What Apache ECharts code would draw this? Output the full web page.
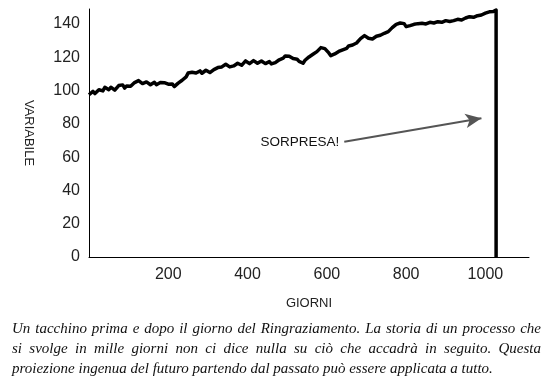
<!DOCTYPE html>
<html>
<head>
<meta charset="utf-8">
<script src="https://cdn.jsdelivr.net/npm/echarts@6/dist/echarts.min.js"></script>
<style>
  html, body { margin: 0; padding: 0; background: #fff; }
  #chart { position: absolute; left: 0; top: 0; width: 559px; height: 390px; }
  .caption {
    position: absolute; left: 12px; top: 318px; width: 529px;
    font-family: "Liberation Serif", "DejaVu Serif", serif;
    font-style: italic; font-size: 15px; line-height: 20px; color: #111;
  }
  .caption div { text-align: justify; text-align-last: justify; }
  .caption div.last { text-align-last: left; }
</style>
</head>
<body>
<div id="chart"></div>
<div class="caption">
  <div>Un tacchino prima e dopo il giorno del Ringraziamento. La storia di un processo che</div>
  <div>si svolge in mille giorni non ci dice nulla su ciò che accadrà in seguito. Questa</div>
  <div class="last">proiezione ingenua del futuro partendo dal passato può essere applicata a tutto.</div>
</div>
<script>
// valori, un punto ogni 5 giorni (giorno 0 .. 1025)
const dayStep = 5;
const values = [
  97.5, 98.5, 99.5, 98.2, 99, 100.5, 101, 99.8, 102, 101.2,
  100.5, 102, 101.5, 100.2, 101, 103, 102.5, 103.4, 101.5, 102.8,
  104, 102.6, 103.5, 104.8, 104.5, 106, 105.5, 104.2, 104.5, 105.2,
  104, 103.5, 104.2, 105, 103.5, 104.2, 104.8, 103.6, 104.7, 105.5,
  103.8, 104.6, 104, 102.4, 103, 104.5, 105.5, 106.2, 107.4, 108.2,
  110.5, 111.6, 111, 109.8, 110.5, 111.6, 111.8, 110.4, 111, 112.2,
  112, 110.8, 111.2, 112.6, 112.4, 113.8, 113, 114.2, 114.5, 115.8,
  115.4, 114.2, 113.6, 114.8, 115, 116.4, 116, 115.2, 116.5, 117.8,
  117.4, 116.2, 116.8, 118, 117.5, 116.4, 116.6, 117.8, 117.3, 116.2,
  116.5, 117.4, 116, 115.4, 116.8, 117.6, 118.5, 118.2, 119.5, 120.8,
  121.4, 120.6, 120, 119.2, 118.5, 118.8, 117.5, 116.8, 116.4, 118.2,
  119, 120.2, 120.4, 121.8, 122.5, 123.4, 124.5, 125.8, 126, 125.2,
  124, 122.6, 121, 120.6, 122, 122.6, 123.5, 123, 124.5, 125.6,
  125.4, 126.8, 126.5, 127.4, 128, 128.6, 129.5, 131.2, 132, 133,
  132.8, 131.4, 130.4, 131, 131.5, 132.6, 132.5, 133.2, 133.5, 134.4,
  134.6, 135.4, 136.5, 137.8, 138.5, 139.8, 139.4, 140.6, 141.4, 140.2,
  138.4, 138.2, 139, 140, 139.8, 140.6, 140.2, 139.6, 140.4, 141,
  140, 140.8, 141, 140.2, 140.6, 141.6, 141.4, 140.8, 141, 142.2,
  142, 141.2, 141.5, 142.6, 142, 143, 142.8, 141.8, 142.4, 143.4,
  143.6, 143, 144.4, 143.6, 144, 145.2, 145, 144.4, 145.4, 146.4,
  146.5, 146, 147.3, 147.8, 147.5, 148.2
];
// il giorno del Ringraziamento: ultimo valore e crollo a zero
const dropDay = 1027;
const dropValues = [148.4, 0];

// freccia "SORPRESA!"
const arrowLabel = "SORPRESA!";
const arrowFrom = [644, 69.3];
const arrowTo = [990, 83.4];

const yTicks = { min: 0, max: 149, interval: 20 };
const xTicks = { min: 0, max: 1110, interval: 200 };

const lineData = values.map((v, i) => [i * dayStep, v]);
dropValues.forEach((v) => lineData.push([dropDay, v]));

const chart = echarts.init(document.getElementById("chart"));
const font = "Liberation Sans, Arial, sans-serif";

chart.setOption({
  animation: false,
  grid: { left: 89, right: 30, top: 9, bottom: 133, outerBoundsMode: "none" },
  xAxis: {
    type: "value",
    min: xTicks.min,
    max: xTicks.max,
    interval: xTicks.interval,
    name: "GIORNI",
    nameLocation: "middle",
    nameGap: 40,
    nameTextStyle: { fontFamily: font, fontSize: 13, color: "#222" },
    axisLine: { show: true, lineStyle: { color: "#000", width: 1 } },
    axisTick: { show: false },
    splitLine: { show: false },
    axisLabel: {
      margin: 10,
      fontFamily: font,
      fontSize: 16,
      color: "#222",
      formatter: (v) => (v > 0 && v % 200 === 0 ? v : ""),
    },
  },
  yAxis: {
    type: "value",
    min: yTicks.min,
    max: yTicks.max,
    interval: yTicks.interval,
    name: "VARIABILE",
    nameLocation: "middle",
    nameRotate: -90,
    nameGap: 54,
    nameTextStyle: { fontFamily: font, fontSize: 13, color: "#222" },
    axisLine: { show: true, lineStyle: { color: "#000", width: 1 } },
    axisTick: { show: false },
    splitLine: { show: false },
    axisLabel: {
      margin: 9,
      fontFamily: font,
      fontSize: 16,
      color: "#222",
      formatter: (v) => (v % 20 === 0 ? v : ""),
    },
  },
  series: [
    {
      type: "line",
      data: lineData,
      showSymbol: false,
      symbol: "none",
      lineStyle: { color: "#000", width: 3.5, join: "round" },
      emphasis: { disabled: true },
      markLine: {
        silent: true,
        symbol: ["none", "arrow"],
        symbolSize: [11, 16],
        lineStyle: { color: "#555", width: 2, type: "solid" },
        label: {
          show: true,
          position: "start",
          formatter: arrowLabel,
          fontFamily: font,
          fontSize: 13.5,
          color: "#111",
        },
        data: [[{ coord: arrowFrom }, { coord: arrowTo }]],
      },
    },
  ],
});
</script>
</body>
</html>
